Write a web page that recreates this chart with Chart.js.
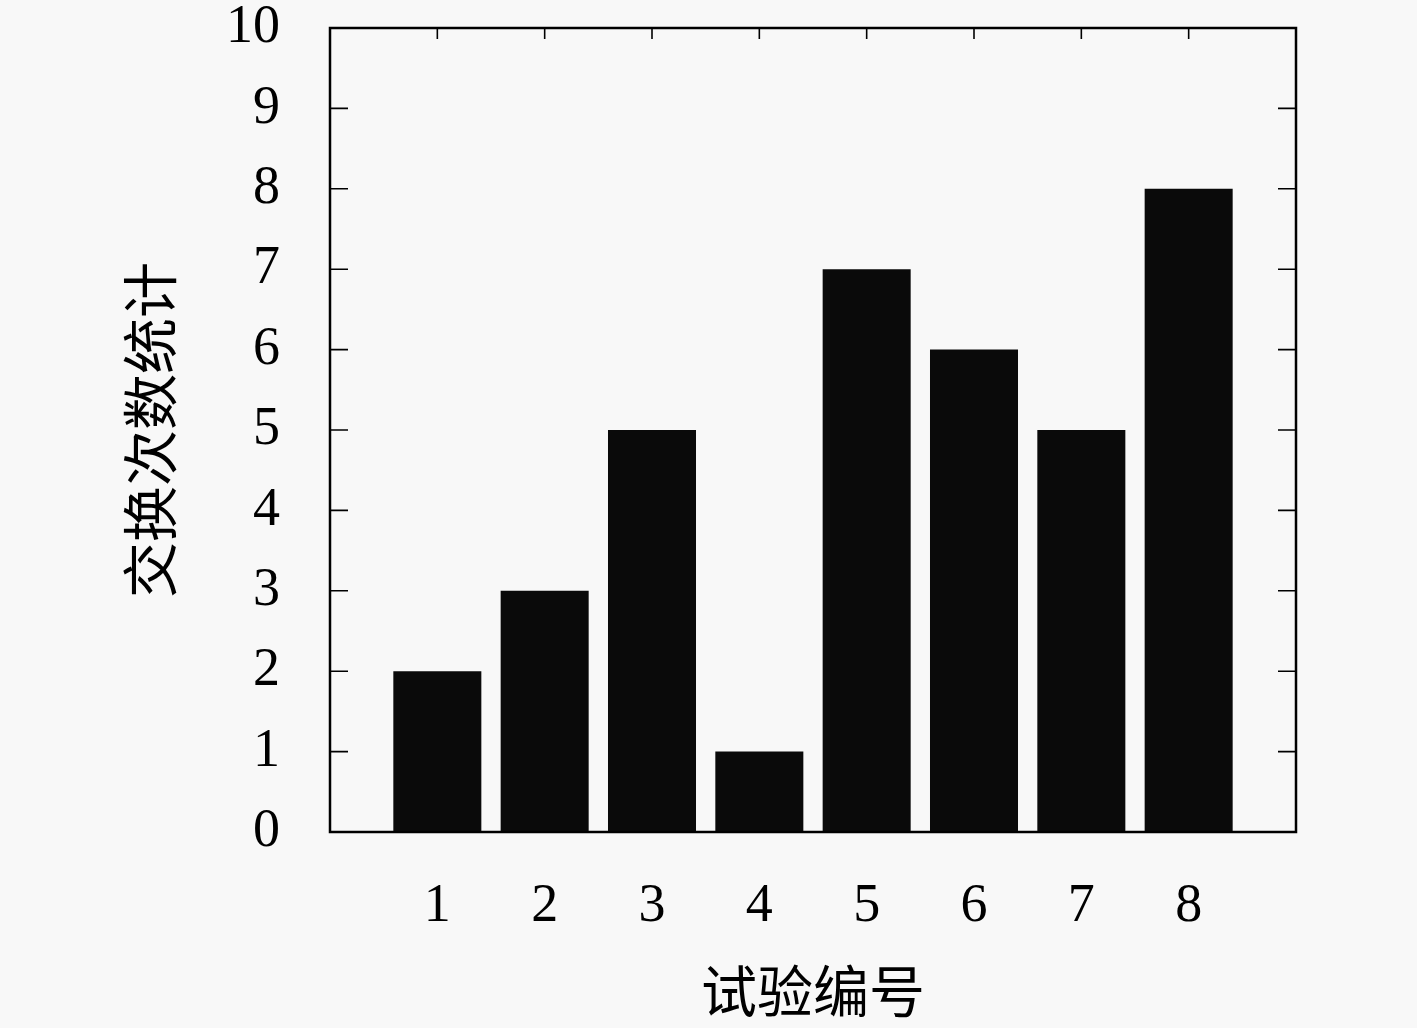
<!DOCTYPE html>
<html>
<head>
<meta charset="utf-8">
<script src="https://cdn.jsdelivr.net/npm/chart.js@4/dist/chart.umd.min.js"></script>
<style>
  html, body { margin: 0; padding: 0; background: #f8f8f8; }
  #wrap { width: 1417px; height: 1028px; }
</style>
</head>
<body>
<div id="wrap"><canvas id="c"></canvas></div>
<script>
// trial number -> swap count
const trials = [1, 2, 3, 4, 5, 6, 7, 8];
const counts = [2, 3, 5, 1, 7, 6, 5, 8];
const yTicks = [0, 1, 2, 3, 4, 5, 6, 7, 8, 9, 10];
const xTitle = '试验编号';
const yTitle = '交换次数统计';

const serif = "'Liberation Serif', 'DejaVu Serif', serif";
const cjk = "'Noto Sans CJK SC', sans-serif";

// frame + inward tick marks
const frameTicks = {
  id: 'frameTicks',
  afterDatasetsDraw(chart) {
    const c = chart.ctx, a = chart.chartArea;
    const xs = chart.scales.x, ys = chart.scales.y;
    c.save();
    c.strokeStyle = '#000';
    c.lineWidth = 1.6;
    yTicks.forEach(v => {
      const py = ys.getPixelForValue(v);
      c.beginPath();
      c.moveTo(a.left, py); c.lineTo(a.left + 18, py);
      c.moveTo(a.right, py); c.lineTo(a.right - 18, py);
      c.stroke();
    });
    trials.forEach(v => {
      const px = xs.getPixelForValue(v);
      c.beginPath();
      c.moveTo(px, a.top); c.lineTo(px, a.top + 11);
      c.stroke();
    });
    c.lineWidth = 2.5;
    c.strokeRect(a.left, a.top, a.right - a.left, a.bottom - a.top);
    c.restore();
  }
};

new Chart(document.getElementById('c'), {
  type: 'bar',
  data: {
    datasets: [{
      data: trials.map((t, i) => ({ x: t, y: counts[i] })),
      backgroundColor: '#0a0a0a',
      borderWidth: 0,
      categoryPercentage: 1,
      barPercentage: 0.82
    }]
  },
  options: {
    responsive: true,
    maintainAspectRatio: false,
    animation: false,
    layout: { padding: { left: 0, right: 121, top: 28, bottom: 0 } },
    plugins: { legend: { display: false }, tooltip: { enabled: false } },
    scales: {
      x: {
        type: 'linear',
        offset: false,
        min: 0, max: 9,
        afterBuildTicks: s => { s.ticks = trials.map(v => ({ value: v })); },
        afterFit: s => { s.height = 196; s.paddingLeft = 0; s.paddingRight = 0; },
        grid: { display: false, drawTicks: false, offset: false },
        border: { display: false },
        ticks: { color: '#000', font: { family: serif, size: 54 }, padding: 42, maxRotation: 0, autoSkip: false },
        title: { display: true, text: xTitle, color: '#000', font: { family: cjk, size: 56 }, padding: { top: 2 } }
      },
      y: {
        min: 0, max: 10,
        afterBuildTicks: s => { s.ticks = yTicks.map(v => ({ value: v })); },
        afterFit: s => { s.width = 330; s.paddingTop = 0; s.paddingBottom = 0; },
        grid: { display: false, drawTicks: false },
        border: { display: false },
        ticks: { color: '#000', font: { family: serif, size: 54 }, padding: 50 },
        title: { display: true, text: yTitle, color: '#000', font: { family: cjk, size: 56 }, padding: { top: 116 } }
      }
    }
  },
  plugins: [frameTicks]
});
</script>
</body>
</html>
